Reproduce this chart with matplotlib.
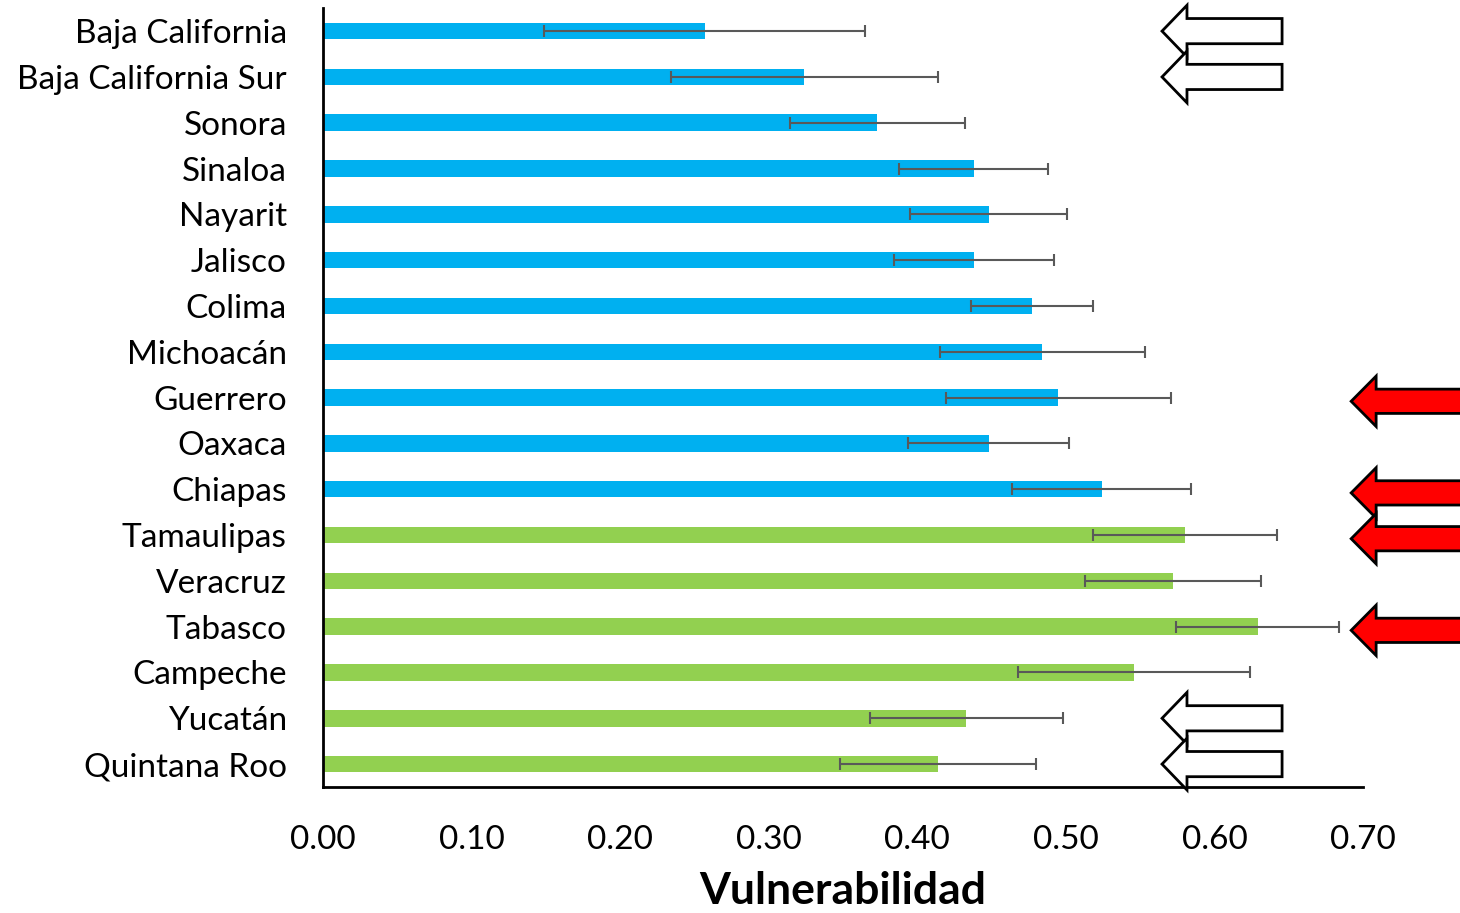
import matplotlib.pyplot as plt
from matplotlib.patches import FancyArrow

plt.rcParams['font.family'] = ['Lato', 'DejaVu Sans']

states = ['Baja California', 'Baja California Sur', 'Sonora', 'Sinaloa', 'Nayarit',
          'Jalisco', 'Colima', 'Michoacán', 'Guerrero', 'Oaxaca', 'Chiapas',
          'Tamaulipas', 'Veracruz', 'Tabasco', 'Campeche', 'Yucatán', 'Quintana Roo']
vuln = [0.257, 0.324, 0.373, 0.438, 0.448, 0.438, 0.477, 0.484, 0.495, 0.448, 0.524,
        0.580, 0.572, 0.629, 0.546, 0.433, 0.414]
err = [0.108, 0.090, 0.059, 0.050, 0.053, 0.054, 0.041, 0.069, 0.076, 0.054, 0.060,
       0.062, 0.059, 0.055, 0.078, 0.065, 0.066]
coast = ['Pacific'] * 11 + ['Gulf'] * 6
white_arrows = ['Baja California', 'Baja California Sur', 'Yucatán', 'Quintana Roo']
red_arrows = ['Guerrero', 'Chiapas', 'Tamaulipas', 'Tabasco']

colors = {'Pacific': '#00B0F0', 'Gulf': '#92D050'}
y = list(range(len(states)))

fig = plt.figure(figsize=(14.6, 9.13), dpi=100)
ax = fig.add_axes([0.2212, 0.138, 0.7124, 0.853])

ax.barh(y, vuln, height=0.36, color=[colors[c] for c in coast], zorder=2)
ax.errorbar(vuln, y, xerr=err, fmt='none', ecolor='#595959', elinewidth=1.5,
            capsize=4.5, capthick=1.5, zorder=3)

ax.set_ylim(len(states) - 0.5, -0.5)
ax.set_xlim(0, 0.70)
ax.set_yticks(y)
ax.set_yticklabels(states, fontsize=24)
ax.set_xticks([0.0, 0.1, 0.2, 0.3, 0.4, 0.5, 0.6, 0.7])
ax.set_xticklabels(['%.2f' % v for v in ax.get_xticks()], fontsize=24)
ax.tick_params(axis='y', length=0, pad=26)
ax.tick_params(axis='x', length=0, pad=27)
ax.spines['top'].set_visible(False)
ax.spines['right'].set_visible(False)
ax.spines['left'].set_linewidth(2)
ax.spines['bottom'].set_linewidth(2)
ax.set_xlabel('Vulnerabilidad', fontsize=32, fontweight='bold', labelpad=12)

# arrows marking states (annotation shapes)
for s in white_arrows:
    i = states.index(s)
    ax.add_patch(FancyArrow(0.6455, i, -0.0808, 0, width=0.55, head_width=1.13,
                            head_length=0.0168, length_includes_head=True,
                            facecolor='white', edgecolor='black', linewidth=2,
                            clip_on=False, zorder=4))
for s in red_arrows:
    i = states.index(s) + 0.08
    ax.add_patch(FancyArrow(0.80, i, -0.108, 0, width=0.53, head_width=1.1,
                            head_length=0.0168, length_includes_head=True,
                            facecolor='#FF0000', edgecolor='black', linewidth=2,
                            clip_on=False, zorder=4))

fig.savefig('out.png', dpi=100)
